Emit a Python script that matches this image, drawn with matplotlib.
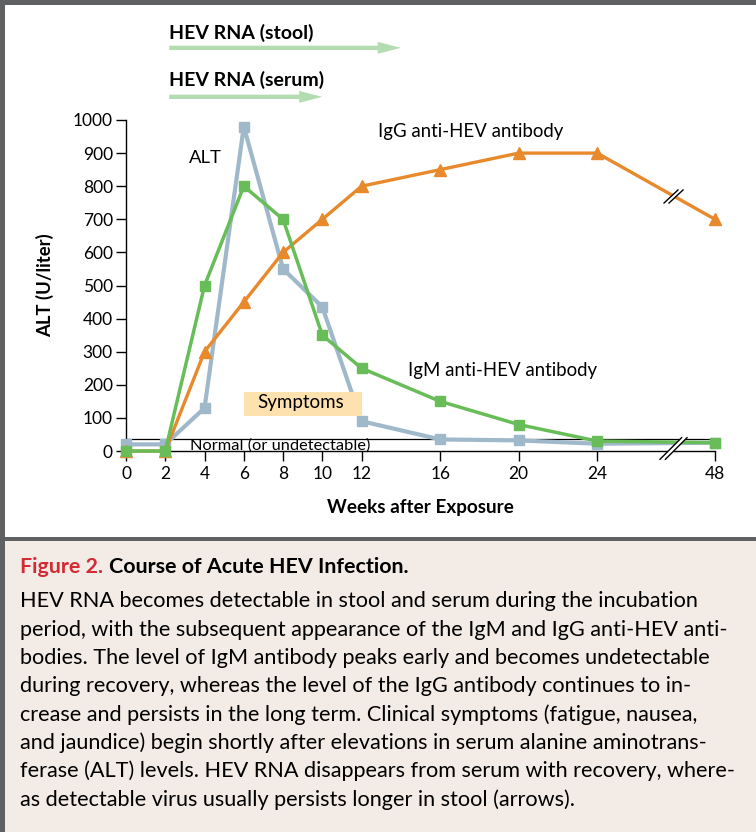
import numpy as np
import matplotlib.pyplot as plt
from matplotlib.patches import Rectangle, FancyArrowPatch
from matplotlib.path import Path

plt.rcParams['font.family'] = ['Lato', 'DejaVu Sans']

# --- data ---
weeks = [0, 2, 4, 6, 8, 10, 12, 16, 20, 24, 48]
alt = [20, 20, 130, 980, 550, 435, 90, 35, 32, 22, 25]
igm = [0, 0, 500, 800, 700, 350, 250, 150, 80, 30, 25]
igg = [0, 0, 300, 450, 600, 700, 800, 850, 900, 900, 700]
x_ticks = [0, 2, 4, 6, 8, 10, 12, 16, 20, 24, 48]
y_ticks = [0, 100, 200, 300, 400, 500, 600, 700, 800, 900, 1000]
normal_level = 35
symptoms_weeks = (6, 12)
symptoms_alt = (105, 178)
rna_stool = (2.2, 14)
rna_serum = (2.2, 10)
break_week = 39.5

caption_head = "Figure 2."
caption_title = "Course of Acute HEV Infection."
caption_lines = [
    "HEV RNA becomes detectable in stool and serum during the incubation",
    "period, with the subsequent appearance of the IgM and IgG anti-HEV anti-",
    "bodies. The level of IgM antibody peaks early and becomes undetectable",
    "during recovery, whereas the level of the IgG antibody continues to in-",
    "crease and persists in the long term. Clinical symptoms (fatigue, nausea,",
    "and jaundice) begin shortly after elevations in serum alanine aminotrans-",
    "ferase (ALT) levels. HEV RNA disappears from serum with recovery, where-",
    "as detectable virus usually persists longer in stool (arrows).",
]

# colours
c_alt = '#9fb9ca'
c_igm = '#69bd58'
c_igg = '#e8892c'
c_arrow = '#b3dcb0'
c_sympt = '#fde2b0'
c_frame = '#5f6062'
c_panel = '#f2ebe6'


# broken x axis: everything after week 24 is squeezed 4x
def fwd(w):
    w = np.asarray(w, dtype=float)
    return np.where(w <= 24, w, 24 + (w - 24) / 4)


def inv(p):
    p = np.asarray(p, dtype=float)
    return np.where(p <= 24, p, 24 + (p - 24) * 4)


W, H = 756, 832
fig = plt.figure(figsize=(W / 100, H / 100), dpi=100)


def fx(x):
    return x / W


def fy(y):
    return 1 - y / H


# caption panel + frame
fig.patches.append(Rectangle((0, 0), 1, fy(540), transform=fig.transFigure,
                             facecolor=c_panel, edgecolor='none', zorder=0))
fig.patches.append(Rectangle((0, fy(541)), 1, 4 / H, transform=fig.transFigure,
                             facecolor=c_frame, edgecolor='none', zorder=1))
fig.patches.append(Rectangle((0, fy(4.5)), 1, 4.5 / H, transform=fig.transFigure,
                             facecolor=c_frame, edgecolor='none', zorder=1))
fig.patches.append(Rectangle((0, 0), 4.5 / W, 1, transform=fig.transFigure,
                             facecolor=c_frame, edgecolor='none', zorder=1))

ax = fig.add_axes([fx(126), fy(451), (715 - 126) / W, (451 - 120) / H])
ax.set_xscale('function', functions=(fwd, inv))
ax.set_xlim(0, 48)
ax.set_ylim(0, 1000)

ax.plot(weeks, alt, color=c_alt, lw=3.0, marker='s', ms=7.6, clip_on=False, zorder=3)
ax.plot(weeks, igg, color=c_igg, lw=2.4, marker='^', ms=8.5, clip_on=False, zorder=4)
ax.plot(weeks, igm, color=c_igm, lw=2.5, marker='s', ms=7.2, clip_on=False, zorder=5)

ax.axhline(normal_level, color='black', lw=0.9, zorder=2)
ax.text(3.27, 4, 'Normal (or undetectable)', fontsize=11.8, va='baseline', zorder=6)

ax.add_patch(Rectangle((symptoms_weeks[0], symptoms_alt[0]),
                       symptoms_weeks[1] - symptoms_weeks[0],
                       symptoms_alt[1] - symptoms_alt[0],
                       facecolor=c_sympt, edgecolor='none', zorder=3.5))
ax.text(8.9, 129, 'Symptoms', fontsize=13.5, ha='center', va='baseline', zorder=6)

ax.text(3.2, 869, 'ALT', fontsize=13.3, va='baseline')
ax.text(12.85, 950, 'IgG anti-HEV antibody', fontsize=13.4, va='baseline')
ax.text(14.35, 227, 'IgM anti-HEV antibody', fontsize=13.4, va='baseline')

# HEV RNA arrows above the plot
for (x0, x1), y_arr, y_lab, lab in [(rna_stool, 1218, 1244, 'HEV RNA (stool)'),
                                     (rna_serum, 1070, 1103, 'HEV RNA (serum)')]:
    arr = FancyArrowPatch((x0, y_arr), (x1, y_arr),
                          arrowstyle='simple,head_length=1.28,head_width=0.66,tail_width=0.24',
                          mutation_scale=13, color=c_arrow, lw=0,
                          shrinkA=0, shrinkB=0, clip_on=False)
    ax.add_patch(arr)
    ax.text(x0, y_lab, lab, fontsize=14, fontweight='bold', va='baseline', clip_on=False)


# axis break marks "//"
def break_markers(w, h, g):
    slashes = Path([(-w, -h), (w - g, h), (-w + g, -h), (w, h)],
                   [Path.MOVETO, Path.LINETO, Path.MOVETO, Path.LINETO])
    gap = Path([(-w, -h), (w - g, h), (w, h), (-w + g, -h), (-w, -h)],
               [Path.MOVETO, Path.LINETO, Path.LINETO, Path.LINETO, Path.CLOSEPOLY])
    return slashes, gap


for y_b, (w, h, g) in [(8, (14, 11.3, 5.4)),
                       (np.interp(fwd(break_week), fwd(weeks), igg), (10, 7, 5))]:
    slashes, gap = break_markers(w, h, g)
    ms = 2 * w * 0.72
    ax.plot([break_week], [y_b], ls='none', marker=gap, ms=ms, mfc='white',
            mec='white', mew=0.5, clip_on=False, zorder=7)
    ax.plot([break_week], [y_b], ls='none', marker=slashes, ms=ms, mfc='none',
            mec='black', mew=1.0, clip_on=False, zorder=8)

ax.set_xticks(x_ticks)
ax.set_xticklabels([str(t) for t in x_ticks])
ax.set_yticks(y_ticks)
ax.minorticks_off()
ax.tick_params(axis='x', direction='out', length=7.5, width=1, pad=3.5, labelsize=12.5)
ax.tick_params(axis='y', direction='out', length=7, width=1, pad=2.5, labelsize=12.5)
for s in ['top', 'right']:
    ax.spines[s].set_visible(False)
for s in ['left', 'bottom']:
    ax.spines[s].set_linewidth(1)

ax.set_xlabel('Weeks after Exposure', fontsize=13.6, fontweight='bold', va='center')
ax.xaxis.set_label_coords(0.5, (451 - 508) / 331)
ax.set_ylabel('ALT (U/liter)', fontsize=13.3, fontweight='bold', va='center')
ax.yaxis.set_label_coords((45 - 126) / 589, 0.5)

# caption
renderer = fig.canvas.get_renderer()
t1 = fig.text(fx(20), fy(572.7), caption_head, color='#d42a34', fontsize=15.4,
              fontweight='bold', va='baseline')
x_end = t1.get_window_extent(renderer).x1
fig.text((x_end + 6) / W, fy(572.7), caption_title, fontsize=15.4,
         fontweight='bold', va='baseline')
for i, line in enumerate(caption_lines):
    fig.text(fx(20), fy(607.3 + i * 28.35), line, fontsize=15.6, va='baseline')

fig.savefig('out.png', dpi=100)
